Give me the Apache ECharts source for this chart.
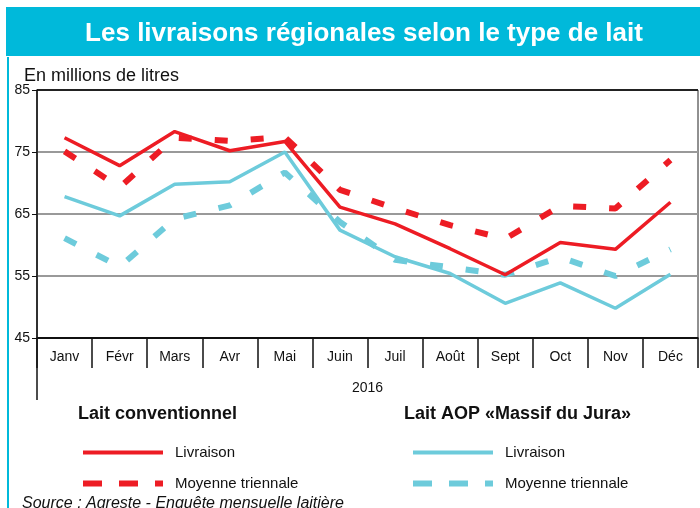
<!DOCTYPE html>
<html>
<head>
<meta charset="utf-8">
<script src="https://cdn.jsdelivr.net/npm/echarts@6/dist/echarts.min.js"></script>
<style>
html,body{margin:0;padding:0;background:#fff;}
#chart{width:700px;height:508px;}
</style>
</head>
<body>
<div id="chart"></div>
<script>
// ---- data ----
var months = ['Janv', 'Févr', 'Mars', 'Avr', 'Mai', 'Juin', 'Juil', 'Août', 'Sept', 'Oct', 'Nov', 'Déc'];
var yTicks = [45, 55, 65, 75, 85];
var convLivraison = [77.3, 72.8, 78.3, 75.2, 76.7, 66.1, 63.4, 59.4, 55.2, 60.4, 59.3, 66.9];
var convMoyenne   = [75.1, 69.3, 77.3, 76.8, 77.4, 68.9, 65.9, 63.2, 61.0, 66.3, 65.9, 73.7];
var aopLivraison  = [67.8, 64.7, 69.8, 70.2, 75.0, 62.4, 58.1, 55.4, 50.6, 53.9, 49.8, 55.3];
var aopMoyenne    = [61.1, 56.5, 64.2, 66.4, 71.7, 63.7, 57.6, 56.4, 55.2, 58.0, 55.0, 59.3];
var yearLabel = '2016';
var titleText = 'Les livraisons régionales selon le type de lait';
var unitText = 'En millions de litres';
var group1 = 'Lait conventionnel';
var group2 = 'Lait AOP «Massif du Jura»';
var itemLivraison = 'Livraison';
var itemMoyenne = 'Moyenne triennale';
var sourceText = 'Source : Agreste - Enquête mensuelle laitière';

// ---- styles ----
var RED = '#ED1C24';
var CYAN = '#6DCBDB';
var BAR = '#00B9DA';
var FONT = '"Liberation Sans", Arial, sans-serif';
var DASH = [13, 23];
var LEGEND_DASH = [19, 17];

var chart = echarts.init(document.getElementById('chart'), null, {renderer: 'canvas'});

var names = {
  c1: itemLivraison + ' (' + group1 + ')',
  c2: itemMoyenne + ' (' + group1 + ')',
  a1: itemLivraison + ' (' + group2 + ')',
  a2: itemMoyenne + ' (' + group2 + ')'
};
function shortName(n) { return n.replace(/ \(.*\)$/, ''); }

function lineSeries(name, data, color, dashed) {
  return {
    name: name,
    type: 'line',
    data: data,
    symbol: 'none',
    showSymbol: false,
    animation: false,
    z: dashed ? 2 : 3,
    lineStyle: dashed
      ? {color: color, width: 6, type: DASH, cap: 'butt'}
      : {color: color, width: 3.5, type: 'solid'},
    itemStyle: {color: color}
  };
}

function legendFor(left, n1, n2, color) {
  return {
    orient: 'vertical',
    left: left,
    top: 445,
    padding: 0,
    itemWidth: 80,
    itemHeight: 14,
    itemGap: 16,
    selectedMode: false,
    formatter: shortName,
    textStyle: {fontFamily: FONT, fontSize: 15, color: '#111', padding: [0, 0, 0, 7]},
    data: [
      {name: n1, itemStyle: {opacity: 0}, lineStyle: {color: color, width: 4, type: 'solid'}},
      {name: n2, itemStyle: {opacity: 0}, lineStyle: {color: color, width: 6, type: LEGEND_DASH, cap: 'butt'}}
    ]
  };
}

var option = {
  backgroundColor: '#ffffff',
  animation: false,
  textStyle: {fontFamily: FONT},
  title: [
    {text: titleText, left: 359, top: 16, textAlign: 'center',
     textStyle: {color: '#fff', fontSize: 26, fontWeight: 'bold', fontFamily: FONT}},
    {text: unitText, left: 19, top: 62,
     textStyle: {color: '#111', fontSize: 18, fontWeight: 'normal', fontFamily: FONT}},
    {text: group1, left: 73, top: 400,
     textStyle: {color: '#111', fontSize: 18, fontWeight: 'bold', fontFamily: FONT}},
    {text: group2, left: 399, top: 400,
     textStyle: {color: '#111', fontSize: 18, fontWeight: 'bold', fontFamily: FONT}},
    {text: sourceText, left: 17, top: 491,
     textStyle: {color: '#111', fontSize: 16, fontWeight: 'normal', fontStyle: 'italic', fontFamily: FONT}}
  ],
  legend: [
    legendFor(80, names.c1, names.c2, RED),
    legendFor(410, names.a1, names.a2, CYAN)
  ],
  grid: {left: 37, right: 2, top: 90, bottom: 170, show: true, borderColor: '#222', borderWidth: 1},
  xAxis: {
    type: 'category',
    data: months,
    boundaryGap: true,
    name: yearLabel,
    nameLocation: 'middle',
    nameGap: 43,
    nameTextStyle: {color: '#111', fontSize: 14, fontFamily: FONT},
    axisLine: {show: true, lineStyle: {color: '#111', width: 1.5}},
    axisTick: {show: true, length: 30, interval: 0, lineStyle: {color: '#111', width: 1.5}},
    axisLabel: {color: '#111', fontSize: 14, margin: 12, interval: 0, fontFamily: FONT},
    splitLine: {show: false}
  },
  yAxis: {
    type: 'value',
    min: yTicks[0],
    max: yTicks[yTicks.length - 1],
    interval: yTicks[1] - yTicks[0],
    axisLine: {show: true, lineStyle: {color: '#111', width: 1.5}},
    axisTick: {show: true, length: 5, lineStyle: {color: '#111'}},
    axisLabel: {color: '#111', fontSize: 14, margin: 7, fontFamily: FONT},
    splitLine: {show: true, lineStyle: {color: ['#111', '#999', '#999', '#999', '#222'], width: 2}}
  },
  graphic: [
    {type: 'rect', shape: {x: 6, y: 7, width: 694, height: 49}, style: {fill: BAR}, z: -1},
    {type: 'rect', shape: {x: 7, y: 57, width: 2, height: 451}, style: {fill: BAR}, z: -1},
    {type: 'line', shape: {x1: 37, y1: 338, x2: 37, y2: 400}, style: {stroke: '#111', lineWidth: 1.5}}
  ],
  series: [
    lineSeries(names.c2, convMoyenne, RED, true),
    lineSeries(names.a2, aopMoyenne, CYAN, true),
    lineSeries(names.c1, convLivraison, RED, false),
    lineSeries(names.a1, aopLivraison, CYAN, false)
  ]
};
chart.setOption(option);
</script>
</body>
</html>
